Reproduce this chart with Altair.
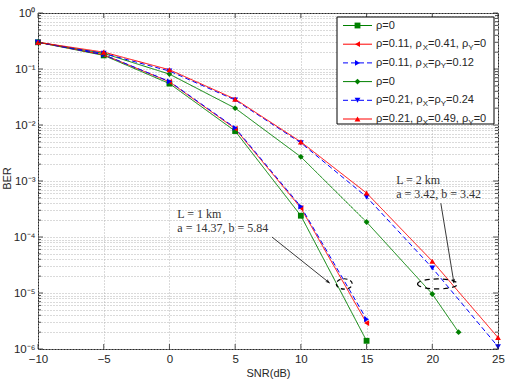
import altair as alt
import pandas as pd

# ---------------- data ----------------
snr_L1 = [-10, -5, 0, 5, 10, 15]
snr_L2 = [-10, -5, 0, 5, 10, 15, 20, 25]
snr_L2_green = [-10, -5, 0, 5, 10, 15, 20, 22]

ber_s1 = [0.30, 0.175, 0.055, 0.0078, 2.4e-4, 1.4e-6]          # L=1km, rho=0
ber_s2 = [0.30, 0.18, 0.059, 0.0086, 3.3e-4, 2.9e-6]           # L=1km, rho=0.11, rx=0.41, ry=0
ber_s3 = [0.30, 0.18, 0.060, 0.0089, 3.5e-4, 3.4e-6]           # L=1km, rho=0.11, rx=ry=0.12
ber_s4 = [0.30, 0.19, 0.081, 0.020, 0.0027, 1.85e-4, 9.6e-6, 2.0e-6]   # L=2km, rho=0
ber_s5 = [0.30, 0.19, 0.092, 0.028, 0.0048, 5.2e-4, 2.8e-5, 1.1e-6]    # L=2km, rho=0.21, rx=ry=0.24
ber_s6 = [0.30, 0.20, 0.097, 0.029, 0.0050, 6.1e-4, 3.7e-5, 1.6e-6]    # L=2km, rho=0.21, rx=0.49, ry=0

series_ids = ["s1", "s2", "s3", "s4", "s5", "s6"]
series_x = [snr_L1, snr_L1, snr_L1, snr_L2_green, snr_L2, snr_L2]
series_y = [ber_s1, ber_s2, ber_s3, ber_s4, ber_s5, ber_s6]
series_colors = ["#008000", "#ff0000", "#0000ff", "#008000", "#0000ff", "#ff0000"]
series_dash = [[1, 0], [1, 0], [5, 3], [1, 0], [5, 3], [1, 0]]
series_shapes = ["square", "triangle-left", "triangle-right", "diamond", "triangle-down", "triangle-up"]

# legend labels: (text, is_subscript) pieces
legend_labels = [
    [("ρ=0", 0)],
    [("ρ=0.11, ρ", 0), ("X", 1), ("=0.41, ρ", 0), ("Y", 1), ("=0", 0)],
    [("ρ=0.11, ρ", 0), ("X", 1), ("=ρ", 0), ("Y", 1), ("=0.12", 0)],
    [("ρ=0", 0)],
    [("ρ=0.21, ρ", 0), ("X", 1), ("=ρ", 0), ("Y", 1), ("=0.24", 0)],
    [("ρ=0.21, ρ", 0), ("X", 1), ("=0.49, ρ", 0), ("Y", 1), ("=0", 0)],
]

x_ticks = [-10, -5, 0, 5, 10, 15, 20, 25]
y_decades = [1e-6, 1e-5, 1e-4, 1e-3, 1e-2, 1e-1, 1.0]
y_minor = [m * d for d in y_decades[:-1] for m in range(2, 10)]

annot_text = ["L = 1 km", "a = 14.37, b = 5.84", "L = 2 km", "a = 3.42, b = 3.42"]
annot_x = [0.6, 0.6, 17.25, 17.25]
annot_y = [2.6e-4, 1.45e-4, 1.05e-3, 5.9e-4]

arrow_x = [7.8, 20.65]
arrow_y = [1.0e-4, 4.0e-4]
arrow_x2 = [12.2, 21.65]
arrow_y2 = [1.5e-5, 1.5e-5]
arrow_angle = [38, 81]

ellipse_x = [13.3, 20.4]
ellipse_y = [1.45e-5, 1.45e-5]

# ---------------- layout ----------------
W, H = 460, 336
FONT = "Liberation Sans"

rows = []
for sid, xs, ys in zip(series_ids, series_x, series_y):
    for a, b in zip(xs, ys):
        rows.append({"snr": a, "ber": b, "series": sid})
df = pd.DataFrame(rows)

xscale = alt.Scale(domain=[-10, 25], nice=False, zero=False)
yscale = alt.Scale(type="log", domain=[1e-6, 1], nice=False)
cscale = alt.Scale(domain=series_ids, range=series_colors)
dscale = alt.Scale(domain=series_ids, range=series_dash)
sscale = alt.Scale(domain=series_ids, range=series_shapes)

sup = {0: "⁰", -1: "⁻¹", -2: "⁻²", -3: "⁻³", -4: "⁻⁴", -5: "⁻⁵", -6: "⁻⁶"}
e = "round(log(datum.value)/LN10)"
expr = "''"
for k, v in sup.items():
    expr = f"({e} == {k} && abs(log(datum.value)/LN10 - {k}) < 0.001) ? '10{v}' : " + expr

x_axis = alt.Axis(values=x_ticks, grid=True, ticks=False, domain=False,
                  labelFontSize=11.5, labelFont=FONT, labelColor="#262626", labelPadding=4,
                  title="SNR(dB)", titleFont=FONT, titleFontSize=11, titleFontWeight="normal",
                  titleColor="#262626", titlePadding=3,
                  gridColor="#b5b5b5", gridDash=[1, 2], gridWidth=1, labelFlush=False)
y_axis = alt.Axis(values=y_decades + y_minor, grid=True, ticks=False, domain=False,
                  labelExpr=expr, labelFontSize=11.5, labelFont=FONT, labelColor="#262626",
                  labelPadding=3, labelFlush=False,
                  title="BER", titleFont=FONT, titleFontSize=11, titleFontWeight="normal",
                  titleColor="#262626", titleAngle=270, titleX=-31, titleY=165,
                  titleAlign="center", titleBaseline="middle",
                  gridColor="#b5b5b5", gridDash=[1, 2], gridWidth=1)

base = alt.Chart(df)
lines = base.mark_line(strokeWidth=1).encode(
    x=alt.X("snr:Q", scale=xscale, axis=x_axis),
    y=alt.Y("ber:Q", scale=yscale, axis=y_axis),
    color=alt.Color("series:N", scale=cscale, legend=None),
    strokeDash=alt.StrokeDash("series:N", scale=dscale, legend=None),
    detail="series:N",
)
points = base.mark_point(filled=True, size=34, opacity=1).encode(
    x=alt.X("snr:Q", scale=xscale),
    y=alt.Y("ber:Q", scale=yscale),
    color=alt.Color("series:N", scale=cscale, legend=None),
    shape=alt.Shape("series:N", scale=sscale, legend=None),
)

# inward ticks
ytick_major = pd.DataFrame({"v": y_decades})
ytick_minor = pd.DataFrame({"v": y_minor})
xtick = pd.DataFrame({"v": x_ticks})
tick_layers = []
for tdf, ln in [(ytick_major, 5), (ytick_minor, 3)]:
    tick_layers.append(alt.Chart(tdf).mark_rule(color="#262626", strokeWidth=0.8).encode(
        y=alt.Y("v:Q", scale=yscale), x=alt.value(0), x2=alt.value(ln)))
    tick_layers.append(alt.Chart(tdf).mark_rule(color="#262626", strokeWidth=0.8).encode(
        y=alt.Y("v:Q", scale=yscale), x=alt.value(W - ln), x2=alt.value(W)))
tick_layers.append(alt.Chart(xtick).mark_rule(color="#262626", strokeWidth=0.8).encode(
    x=alt.X("v:Q", scale=xscale), y=alt.value(H - 5), y2=alt.value(H)))
tick_layers.append(alt.Chart(xtick).mark_rule(color="#262626", strokeWidth=0.8).encode(
    x=alt.X("v:Q", scale=xscale), y=alt.value(0), y2=alt.value(5)))

# annotations
adf = pd.DataFrame({"x": annot_x, "y": annot_y, "t": annot_text})
annot = alt.Chart(adf).mark_text(align="left", baseline="middle", font="Liberation Serif",
                                 fontSize=12, color="#333333").encode(
    x=alt.X("x:Q", scale=xscale), y=alt.Y("y:Q", scale=yscale), text="t:N")
ardf = pd.DataFrame({"x": arrow_x, "y": arrow_y, "x2": arrow_x2, "y2": arrow_y2, "ang": arrow_angle})
arrows = alt.Chart(ardf).mark_rule(color="#222222", strokeWidth=0.9).encode(
    x=alt.X("x:Q", scale=xscale), y=alt.Y("y:Q", scale=yscale),
    x2="x2:Q", y2="y2:Q")
heads = alt.Chart(ardf).mark_point(shape="M0,0L-2,-0.8L-1.4,0L-2,0.8Z", filled=True,
                                   size=20, color="#111111", opacity=1).encode(
    x=alt.X("x2:Q", scale=xscale), y=alt.Y("y2:Q", scale=yscale),
    angle=alt.Angle("ang:Q", scale=None))
edf1 = pd.DataFrame({"x": ellipse_x[:1], "y": ellipse_y[:1]})
edf2 = pd.DataFrame({"x": ellipse_x[1:], "y": ellipse_y[1:]})
ell1 = alt.Chart(edf1).mark_point(shape="M-1,0A1,0.65 0 1,0 1,0A1,0.65 0 1,0 -1,0Z",
                                  size=256, filled=False, color="black", strokeWidth=1.2,
                                  strokeDash=[4, 3], opacity=1).encode(
    x=alt.X("x:Q", scale=xscale), y=alt.Y("y:Q", scale=yscale))
ell2 = alt.Chart(edf2).mark_point(shape="M-1,0A1,0.25 0 1,0 1,0A1,0.25 0 1,0 -1,0Z",
                                  size=1600, filled=False, color="black", strokeWidth=1.2,
                                  strokeDash=[5, 4], opacity=1).encode(
    x=alt.X("x:Q", scale=xscale), y=alt.Y("y:Q", scale=yscale))

# custom legend (pixel positions inside plot area)
LX0, LX1, LY0, LY1 = 299, 456, 4, 111
row_y = [12.5 + i * 18.7 for i in range(6)]
seg_x0, seg_x1, mark_x, text_x = 305, 334, 319.5, 338
FS, FSS = 11.0, 8.0
widths = {**{str(d): 0.556 for d in range(10)}, ".": 0.278, ",": 0.278, " ": 0.278,
          "=": 0.584, "X": 0.667, "Y": 0.667, "ρ": 0.578}

frag_main, frag_sub = [], []
for yy, parts in zip(row_y, legend_labels):
    cx = text_x
    for txt, is_sub in parts:
        fs = FSS if is_sub else FS
        (frag_sub if is_sub else frag_main).append({"px": cx, "py": yy + (3.5 if is_sub else 0), "t": txt})
        cx += sum(widths.get(c, 0.556) for c in txt) * fs

box = alt.Chart(pd.DataFrame({"a": [0]})).mark_rect(fill="white", stroke="black", strokeWidth=1).encode(
    x=alt.value(LX0), x2=alt.value(LX1), y=alt.value(LY0), y2=alt.value(LY1))
ldf = pd.DataFrame({"series": series_ids, "py": row_y, "x0": [seg_x0] * 6,
                    "x1": [seg_x1] * 6, "xm": [mark_x] * 6})
leg_lines = alt.Chart(ldf).mark_rule(strokeWidth=1).encode(
    x=alt.X("x0:Q", scale=None), x2="x1:Q", y=alt.Y("py:Q", scale=None),
    color=alt.Color("series:N", scale=cscale, legend=None),
    strokeDash=alt.StrokeDash("series:N", scale=dscale, legend=None))
leg_pts = alt.Chart(ldf).mark_point(filled=True, size=34, opacity=1).encode(
    x=alt.X("xm:Q", scale=None), y=alt.Y("py:Q", scale=None),
    color=alt.Color("series:N", scale=cscale, legend=None),
    shape=alt.Shape("series:N", scale=sscale, legend=None))
leg_txt = alt.Chart(pd.DataFrame(frag_main)).mark_text(align="left", baseline="middle", font=FONT,
                                                        fontSize=FS, color="#262626").encode(
    x=alt.X("px:Q", scale=None), y=alt.Y("py:Q", scale=None), text="t:N")
leg_sub = alt.Chart(pd.DataFrame(frag_sub)).mark_text(align="left", baseline="middle", font=FONT,
                                                       fontSize=FSS, color="#262626").encode(
    x=alt.X("px:Q", scale=None), y=alt.Y("py:Q", scale=None), text="t:N")

chart = alt.layer(lines, points, *tick_layers, annot, arrows, heads, ell1, ell2,
                  box, leg_lines, leg_pts, leg_txt, leg_sub).properties(
    width=W, height=H,
    autosize=alt.AutoSizeParams(type="none"),
    padding={"left": 38, "top": 13, "right": 12, "bottom": 31},
    background="white",
).configure_view(stroke="#262626", strokeWidth=1)

chart.save("out.html", embed_options={"renderer": "svg", "actions": False})
